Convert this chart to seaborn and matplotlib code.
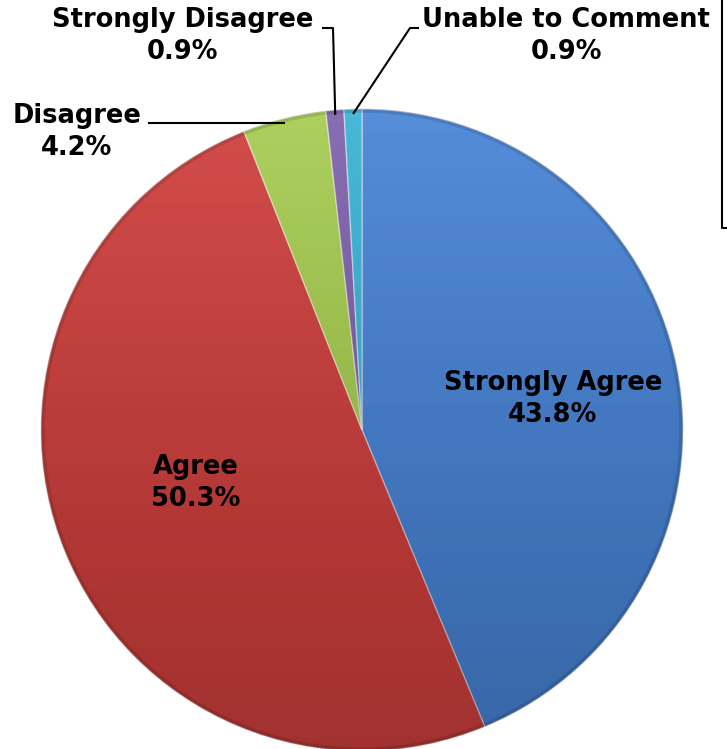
import numpy as np
import matplotlib
matplotlib.use("Agg")
import matplotlib.pyplot as plt
import seaborn as sns
from matplotlib.patches import Circle

# ---- data ----
categories = ["Strongly Agree", "Agree", "Disagree", "Strongly Disagree", "Unable to Comment"]
values = [43.8, 50.3, 4.2, 0.9, 0.9]
pct_labels = ["43.8%", "50.3%", "4.2%", "0.9%", "0.9%"]
colors = ["#4884D6", "#CF403D", "#A6CC50", "#8062AC", "#3AB3D6"]

sns.set_theme(style="white")
plt.rcParams["font.family"] = ["DejaVu Sans"]

W, H, DPI = 727, 749, 100
fig = plt.figure(figsize=(W / DPI, H / DPI), dpi=DPI)
ax = fig.add_axes([0, 0, 1, 1])

# pixel mapping: pie centre (362, 430), radius 321 px
cx, cy, R = 362.0, 430.0, 321.0
def px(x, y):
    return ((x - cx) / R, (cy - y) / R)

wedges, _ = ax.pie(values, colors=colors, startangle=90, counterclock=False,
                   radius=1.0, wedgeprops=dict(edgecolor=(1, 1, 1, 0.45), linewidth=1.0))

# shading gradient to imitate the 3D look
grad = np.linspace(0, 1, 256).reshape(-1, 1)
rgba = np.zeros((256, 1, 4))
rgba[:, 0, 3] = 0.22 * grad[:, 0]
img = ax.imshow(rgba, extent=(-1, 1, -1, 1), origin="upper", zorder=3, aspect="auto")
img.set_clip_path(Circle((0, 0), 1.0, transform=ax.transData))
top = np.ones((256, 1, 4))
top[:, 0, 3] = 0.08 * (1 - grad[:, 0]) ** 2
img2 = ax.imshow(top, extent=(-1, 1, -1, 1), origin="upper", zorder=3, aspect="auto")
img2.set_clip_path(Circle((0, 0), 1.0, transform=ax.transData))
rim = Circle((0, 0), 0.995, fill=False, edgecolor=(0, 0, 0, 0.12), linewidth=3, zorder=4)
ax.add_patch(rim)

ax.set_xlim(-cx / R, (W - cx) / R)
ax.set_ylim((cy - H) / R, cy / R)
ax.set_aspect("auto")
ax.axis("off")

fs = 18.5
tkw = dict(fontsize=fs, fontweight="bold", color="black", ha="center", va="center",
           zorder=6, linespacing=1.3)

# mid-angles of each wedge (radians, measured from +x axis)
cum = np.cumsum([0] + values)
tot = sum(values)
mids = [np.deg2rad(90 - 360 * (cum[i] + values[i] / 2) / tot) for i in range(len(values))]

# inside labels
ax.text(*px(553, 399), f"{categories[0]}\n{pct_labels[0]}", **tkw)
ax.text(*px(196, 483), f"{categories[1]}\n{pct_labels[1]}", **tkw)

# outside labels
ax.text(*px(77, 132), f"{categories[2]}\n{pct_labels[2]}", **tkw)
ax.text(*px(183, 36), f"{categories[3]}\n{pct_labels[3]}", **tkw)
ax.text(*px(566, 36), f"{categories[4]}\n{pct_labels[4]}", **tkw)

# leader lines
def endpoint(i, r=0.985):
    return (r * np.cos(mids[i]), r * np.sin(mids[i]))

lk = dict(color="black", linewidth=1.5, zorder=6, solid_capstyle="butt")
e2 = endpoint(2)
s2 = px(148, 0)
ax.plot([s2[0], e2[0]], [e2[1], e2[1]], **lk)
e3 = endpoint(3)
a3, b3 = px(322, 28), px(333, 28)
ax.plot([a3[0], b3[0], e3[0]], [a3[1], b3[1], e3[1]], **lk)
e4 = endpoint(4)
a4, b4 = px(419, 28), px(410, 28)
ax.plot([a4[0], b4[0], e4[0]], [a4[1], b4[1], e4[1]], **lk)

# partial frame at right edge (cropped legend box)
f1, f2 = px(722, -5), px(722, 228)
f3 = px(730, 228)
ax.plot([f1[0], f2[0], f3[0]], [f1[1], f2[1], f3[1]], color="black", linewidth=1.5,
        zorder=6, clip_on=False)

fig.savefig("out.png", dpi=DPI, facecolor="white")
